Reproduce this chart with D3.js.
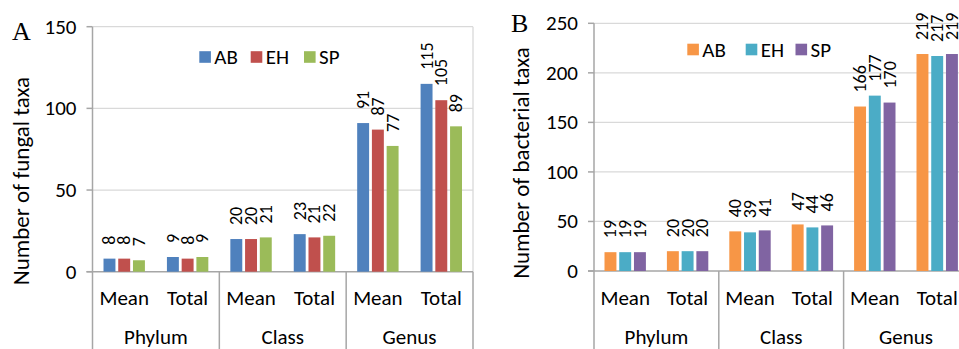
<!DOCTYPE html>
<html>
<head>
<meta charset="utf-8">
<script src="https://cdn.jsdelivr.net/npm/d3@7/dist/d3.min.js"></script>
<style>
  html, body { margin: 0; padding: 0; background: #fff; }
  svg { display: block; }
  text { font-family: Carlito, Calibri, Lato, "Open Sans", sans-serif; fill: #000; }
</style>
</head>
<body>
<svg id="chart" width="959" height="349"></svg>
<script>
// Sub-categories (inner axis level) and their parent groups (outer axis level)
const categories = ["Mean", "Total", "Mean", "Total", "Mean", "Total"];
const groups = ["Phylum", "Class", "Genus"];
const seriesNames = ["AB", "EH", "SP"];

// Panel A: fungal taxa counts
const fungalAB = [8, 9, 20, 23, 91, 115];
const fungalEH = [8, 8, 20, 21, 87, 105];
const fungalSP = [7, 9, 21, 22, 77, 89];
const fungalTicks = [0, 50, 100, 150];

// Panel B: bacterial taxa counts
const bacterialAB = [19, 20, 40, 47, 166, 219];
const bacterialEH = [19, 20, 39, 44, 177, 217];
const bacterialSP = [19, 20, 41, 46, 170, 219];
const bacterialTicks = [0, 50, 100, 150, 200, 250];

const svg = d3.select("#chart");

const AXIS = "#a6a6a6", GRID = "#d9d9d9";
const TICK_FONT = 21, LABEL_FONT = 18, TITLE_FONT = 23, LEGEND_FONT = 21;

function drawPanel(o) {
  const g = svg.append("g");
  const bottom = 349;

  const x = d3.scaleBand().domain(d3.range(categories.length)).range([o.left, o.right]);
  const y = d3.scaleLinear().domain([0, o.ticks[o.ticks.length - 1]]).range([o.zeroY, o.topY]);
  const inner = d3.scaleBand().domain(seriesNames).range([-20.7, 20.7]).paddingInner(0.19);

  // horizontal gridlines
  g.selectAll("line.grid").data(o.ticks.filter(t => t > 0)).join("line")
    .attr("x1", o.left).attr("x2", o.right)
    .attr("y1", d => y(d)).attr("y2", d => y(d))
    .attr("stroke", GRID).attr("stroke-width", 1.3);

  // right edge of the plot area
  g.append("line").attr("x1", o.right).attr("x2", o.right)
    .attr("y1", o.topY).attr("y2", o.zeroY).attr("stroke", GRID).attr("stroke-width", 1.3);

  // value axis: line, outward ticks, labels
  g.append("line").attr("x1", o.left).attr("x2", o.left)
    .attr("y1", o.topY).attr("y2", bottom).attr("stroke", AXIS).attr("stroke-width", 1.5);
  g.selectAll("line.tick").data(o.ticks).join("line")
    .attr("x1", o.left - 6).attr("x2", o.left)
    .attr("y1", d => y(d)).attr("y2", d => y(d))
    .attr("stroke", AXIS).attr("stroke-width", 1.5);
  g.selectAll("text.tick").data(o.ticks).join("text")
    .attr("x", o.left - 16).attr("y", d => y(d))
    .attr("text-anchor", "end").attr("dominant-baseline", "central")
    .style("font-size", TICK_FONT + "px").text(d => d);

  // category axis line and group separators
  g.append("line").attr("x1", o.left - 6).attr("x2", o.right)
    .attr("y1", o.zeroY).attr("y2", o.zeroY).attr("stroke", AXIS).attr("stroke-width", 1.5);
  const sepIdx = [2, 4, 6];
  g.selectAll("line.sep").data(sepIdx).join("line")
    .attr("x1", d => d < 6 ? x(d) : o.right).attr("x2", d => d < 6 ? x(d) : o.right)
    .attr("y1", o.zeroY).attr("y2", bottom)
    .attr("stroke", AXIS).attr("stroke-width", 1.5);

  // category labels
  g.selectAll("text.cat").data(categories).join("text")
    .attr("x", (d, i) => x(i) + x.bandwidth() / 2).attr("y", 305)
    .attr("text-anchor", "middle").style("font-size", TICK_FONT + "px").text(d => d);
  g.selectAll("text.grp").data(groups).join("text")
    .attr("x", (d, i) => x(i * 2) + x.bandwidth()).attr("y", 344)
    .attr("text-anchor", "middle").style("font-size", TICK_FONT + "px").text(d => d);

  // bars and rotated value labels
  const rows = [];
  seriesNames.forEach((s, si) => {
    o.values[si].forEach((v, ci) => rows.push({ s, si, ci, v }));
  });
  g.selectAll("rect.bar").data(rows).join("rect")
    .attr("x", d => x(d.ci) + x.bandwidth() / 2 + inner(d.s))
    .attr("width", inner.bandwidth())
    .attr("y", d => y(d.v)).attr("height", d => o.zeroY - y(d.v))
    .attr("fill", d => o.colors[d.si]);
  g.selectAll("text.val").data(rows).join("text")
    .attr("transform", d => {
      const cx = x(d.ci) + x.bandwidth() / 2 + inner(d.s) + inner.bandwidth() / 2;
      return `translate(${cx},${y(d.v) - 14}) rotate(-90)`;
    })
    .attr("dominant-baseline", "central")
    .style("font-size", LABEL_FONT + "px").text(d => d.v);

  // axis title
  g.append("text")
    .attr("transform", `translate(${o.titleX},${o.titleY}) rotate(-90)`)
    .attr("text-anchor", "middle")
    .style("font-size", TITLE_FONT + "px").text(o.title);

  // panel letter
  g.append("text").attr("x", o.letterX).attr("y", o.letterY)
    .style("font-family", "'Liberation Serif', 'Times New Roman', serif")
    .style("font-size", "26px").text(o.letter);

  // legend
  const lg = g.append("g");
  seriesNames.forEach((s, i) => {
    lg.append("rect").attr("x", o.legendX[i]).attr("y", o.legendY - 5.8)
      .attr("width", 11.6).attr("height", 11.6).attr("fill", o.colors[i]);
    lg.append("text").attr("x", o.legendX[i] + 15).attr("y", o.legendY)
      .attr("dominant-baseline", "central").style("font-size", LEGEND_FONT + "px").text(s);
  });
}

drawPanel({
  left: 92.5, right: 473, zeroY: 271.7, topY: 26.7,
  ticks: fungalTicks,
  values: [fungalAB, fungalEH, fungalSP],
  colors: ["#4f81bd", "#c0504d", "#9bbb59"],
  title: "Number of fungal taxa", titleX: 29, titleY: 181,
  letter: "A", letterX: 12, letterY: 40,
  legendX: [199.3, 250.7, 304], legendY: 57
});

drawPanel({
  left: 594, right: 968.4, zeroY: 271, topY: 23.3,
  ticks: bacterialTicks,
  values: [bacterialAB, bacterialEH, bacterialSP],
  colors: ["#f79646", "#4bacc6", "#8064a2"],
  title: "Number of bacterial taxa", titleX: 529, titleY: 163,
  letter: "B", letterX: 511, letterY: 31.5,
  legendX: [687.3, 745.7, 795.5], legendY: 49.5
});
</script>
</body>
</html>
